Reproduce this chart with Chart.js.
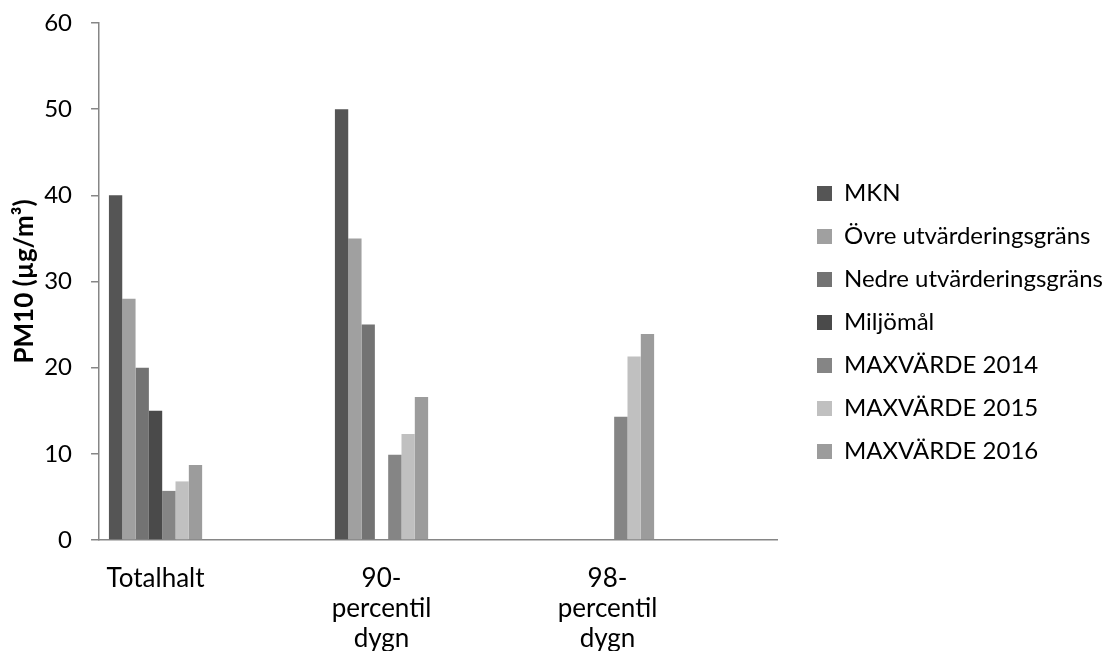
<!DOCTYPE html>
<html>
<head>
<meta charset="utf-8">
<script src="https://cdn.jsdelivr.net/npm/chart.js@4"></script>
<style>
  html, body { margin: 0; padding: 0; background: #fff; }
</style>
</head>
<body>
<canvas id="js--chart" width="1112" height="651"></canvas>
<script>
// PM10 halter
const categories = ['Totalhalt', ['90-', 'percentil', 'dygn'], ['98-', 'percentil', 'dygn']];
const seriesNames = ['MKN', 'Övre utvärderingsgräns', 'Nedre utvärderingsgräns', 'Miljömål', 'MAXVÄRDE 2014', 'MAXVÄRDE 2015', 'MAXVÄRDE 2016'];
const mkn = [40, 50, null];
const ovre = [28, 35, null];
const nedre = [20, 25, null];
const miljomal = [15, null, null];
const max2014 = [5.7, 9.9, 14.3];
const max2015 = [6.8, 12.3, 21.3];
const max2016 = [8.7, 16.6, 23.9];
const yMin = 0;
const yMax = 60;
const yStep = 10;

const colors = ['#555555', '#a0a0a0', '#737373', '#4a4a4a', '#858585', '#c0c0c0', '#9c9c9c'];
const axisColor = '#868686';
const fontFamily = 'Lato, "Open Sans", sans-serif';

// every category gets an empty slot after it, so the bars sit to the left
const labels = categories.flatMap(c => [c, '']);
const spread = vals => vals.flatMap(v => [v, null]);

const datasets = [mkn, ovre, nedre, miljomal, max2014, max2015, max2016].map((vals, i) => ({
  label: seriesNames[i],
  data: spread(vals),
  backgroundColor: colors[i],
  borderWidth: 0,
  categoryPercentage: 0.825,
  barPercentage: 1
}));

// legend: fixed width and a gap between plot and keys
const legendPlace = {
  id: 'legendPlace',
  beforeInit(chart) {
    const legend = chart.legend;
    const fit = legend.fit;
    legend.fit = function () {
      fit.call(this);
      this.width = 335;
    };
  },
  afterLayout(chart) {
    const legend = chart.legend;
    legend.left += 21;
    legend.right += 21;
    legend.top -= 16;
    legend.bottom -= 16;
  }
};

// chart.js counts tick padding twice and adds room for overhanging labels
const fitX = scale => {
  scale.paddingLeft = 0;
  scale.paddingRight = 0;
  scale.height -= scale.options.ticks.padding;
};
const fitY = scale => {
  scale.paddingTop = 0;
  scale.paddingBottom = 0;
  scale.width -= scale.options.ticks.padding;
};

const config = {
  type: 'bar',
  data: { labels: labels, datasets: datasets },
  options: {
    responsive: false,
    animation: false,
    layout: { padding: { top: 23, left: 9, right: 0, bottom: -3 } },
    plugins: {
      tooltip: { enabled: false },
      legend: {
        position: 'right',
        align: 'center',
        labels: {
          boxWidth: 15,
          boxHeight: 15,
          padding: 19,
          color: '#000',
          font: { family: fontFamily, size: 24 }
        }
      }
    },
    scales: {
      x: {
        afterFit: fitX,
        grid: { display: false, drawTicks: false },
        border: { display: true, color: axisColor, width: 1.5 },
        ticks: {
          autoSkip: false,
          maxRotation: 0,
          padding: 24,
          color: '#000',
          font: { family: fontFamily, size: 26, lineHeight: '30px' }
        }
      },
      y: {
        min: yMin,
        max: yMax,
        afterFit: fitY,
        grid: { display: true, drawOnChartArea: false, drawTicks: true, tickLength: 8, color: axisColor, lineWidth: 1.5 },
        border: { display: true, color: axisColor, width: 1.5 },
        ticks: {
          stepSize: yStep,
          padding: 19,
          color: '#000',
          font: { family: fontFamily, size: 24 }
        },
        title: {
          display: true,
          text: 'PM10 (µg/m³)',
          color: '#000',
          padding: { top: 0, bottom: 4 },
          font: { family: fontFamily, size: 26, weight: 'bold' }
        }
      }
    }
  },
  plugins: [legendPlace]
};

const chart1 = new Chart(document.getElementById('js--chart'), config);
</script>
</body>
</html>
